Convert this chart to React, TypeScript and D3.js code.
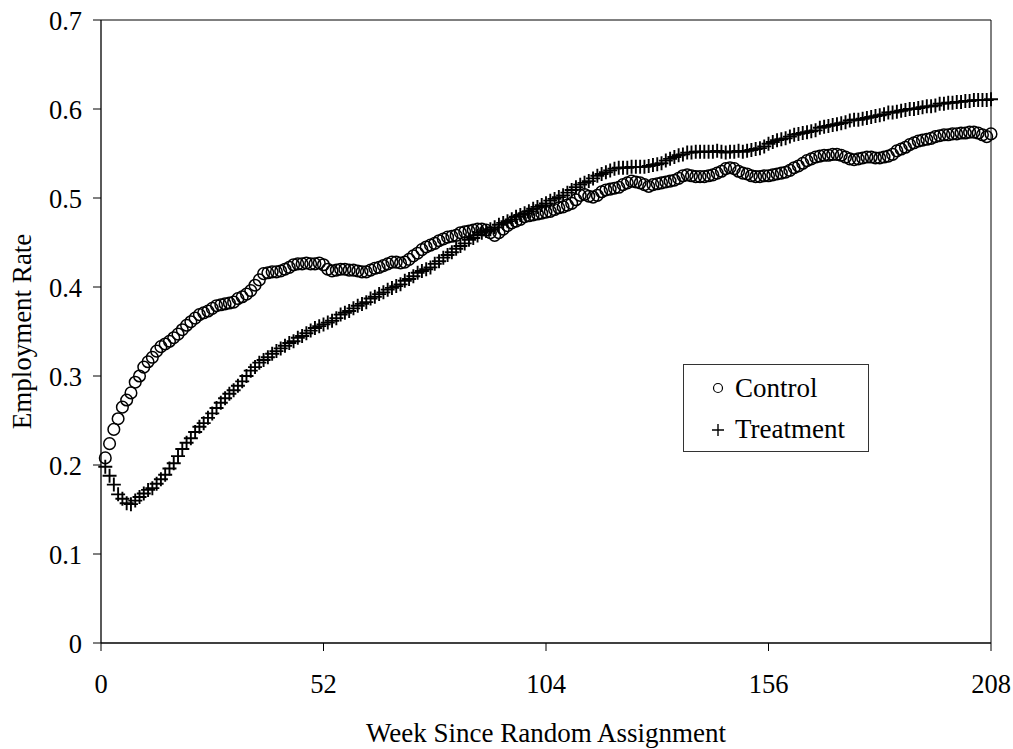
import React from 'react';
import * as d3 from 'd3';

// week index for every point (weeks 1..208)
const WEEKS = d3.range(1, 209);

const CONTROL = [
  0.208, 0.224, 0.240, 0.252, 0.265, 0.273, 0.281, 0.293, 0.300, 0.310,
  0.316, 0.321, 0.328, 0.333, 0.336, 0.339, 0.343, 0.347, 0.352, 0.357,
  0.361, 0.365, 0.369, 0.371, 0.373, 0.376, 0.379, 0.380, 0.381, 0.382,
  0.383, 0.387, 0.389, 0.392, 0.396, 0.402, 0.408, 0.415, 0.416, 0.417,
  0.417, 0.418, 0.420, 0.422, 0.425, 0.426, 0.426, 0.427, 0.426, 0.426,
  0.427, 0.425, 0.420, 0.418, 0.419, 0.420, 0.420, 0.419, 0.419, 0.418,
  0.417, 0.417, 0.419, 0.421, 0.422, 0.424, 0.426, 0.428, 0.428, 0.427,
  0.428, 0.431, 0.435, 0.438, 0.442, 0.445, 0.447, 0.449, 0.452, 0.454,
  0.456, 0.457, 0.458, 0.461, 0.462, 0.463, 0.464, 0.465, 0.465, 0.464,
  0.461, 0.458, 0.461, 0.465, 0.469, 0.472, 0.474, 0.476, 0.479, 0.480,
  0.481, 0.482, 0.483, 0.484, 0.485, 0.487, 0.489, 0.490, 0.492, 0.494,
  0.498, 0.503, 0.504, 0.502, 0.501, 0.503, 0.507, 0.509, 0.510, 0.511,
  0.512, 0.515, 0.517, 0.519, 0.518, 0.517, 0.515, 0.513, 0.515, 0.516,
  0.517, 0.518, 0.519, 0.520, 0.522, 0.525, 0.526, 0.525, 0.524, 0.524,
  0.524, 0.525, 0.526, 0.528, 0.530, 0.533, 0.534, 0.533, 0.530, 0.528,
  0.527, 0.525, 0.524, 0.524, 0.525, 0.525, 0.526, 0.527, 0.528, 0.529,
  0.531, 0.534, 0.536, 0.539, 0.542, 0.544, 0.546, 0.547, 0.548, 0.548,
  0.549, 0.549, 0.548, 0.546, 0.544, 0.543, 0.544, 0.545, 0.546, 0.546,
  0.545, 0.545, 0.546, 0.547, 0.549, 0.553, 0.555, 0.557, 0.560, 0.562,
  0.564, 0.565, 0.566, 0.567, 0.569, 0.570, 0.571, 0.571, 0.572, 0.572,
  0.573, 0.573, 0.574, 0.574, 0.573, 0.571, 0.569, 0.572,
];

const TREATMENT = [
  0.198, 0.188, 0.178, 0.167, 0.162, 0.157, 0.156, 0.160, 0.164, 0.168,
  0.172, 0.174, 0.179, 0.184, 0.189, 0.196, 0.202, 0.210, 0.218, 0.225,
  0.230, 0.237, 0.243, 0.247, 0.253, 0.258, 0.264, 0.270, 0.275, 0.280,
  0.284, 0.289, 0.294, 0.300, 0.306, 0.310, 0.315, 0.318, 0.321, 0.325,
  0.328, 0.331, 0.334, 0.337, 0.339, 0.343, 0.345, 0.348, 0.351, 0.354,
  0.356, 0.358, 0.360, 0.362, 0.365, 0.369, 0.371, 0.373, 0.376, 0.379,
  0.381, 0.383, 0.387, 0.389, 0.392, 0.394, 0.397, 0.399, 0.401, 0.403,
  0.407, 0.409, 0.412, 0.416, 0.418, 0.420, 0.422, 0.426, 0.429, 0.433,
  0.436, 0.439, 0.443, 0.446, 0.449, 0.453, 0.455, 0.458, 0.461, 0.463,
  0.465, 0.467, 0.470, 0.472, 0.474, 0.476, 0.479, 0.481, 0.483, 0.485,
  0.488, 0.490, 0.492, 0.494, 0.497, 0.499, 0.501, 0.503, 0.506, 0.509,
  0.512, 0.515, 0.517, 0.519, 0.522, 0.525, 0.527, 0.529, 0.531, 0.533,
  0.534, 0.534, 0.534, 0.535, 0.535, 0.535, 0.535, 0.536, 0.537, 0.538,
  0.539, 0.542, 0.544, 0.546, 0.548, 0.549, 0.551, 0.551, 0.552, 0.552,
  0.552, 0.552, 0.552, 0.553, 0.552, 0.551, 0.552, 0.552, 0.553, 0.552,
  0.553, 0.554, 0.555, 0.556, 0.558, 0.561, 0.563, 0.565, 0.566, 0.567,
  0.569, 0.571, 0.572, 0.573, 0.574, 0.575, 0.576, 0.579, 0.580, 0.581,
  0.582, 0.583, 0.584, 0.585, 0.587, 0.588, 0.588, 0.589, 0.590, 0.591,
  0.592, 0.593, 0.594, 0.596, 0.596, 0.597, 0.598, 0.599, 0.600, 0.600,
  0.601, 0.602, 0.603, 0.603, 0.604, 0.606, 0.606, 0.607, 0.607, 0.608,
  0.608, 0.609, 0.609, 0.610, 0.610, 0.610, 0.610, 0.611,
];

const X_TICKS = [0, 52, 104, 156, 208];
const Y_TICKS = [0, 0.1, 0.2, 0.3, 0.4, 0.5, 0.6, 0.7];
const Y_LABELS = ['0', '0.1', '0.2', '0.3', '0.4', '0.5', '0.6', '0.7'];

const FONT = '"Liberation Serif", "Times New Roman", serif';

export default function App() {
  const width = 1013;
  const height = 749;
  const left = 101, right = 991, top = 20, bottom = 643;

  const x = d3.scaleLinear().domain([0, 208]).range([left, right]);
  const y = d3.scaleLinear().domain([0, 0.7]).range([bottom, top]);

  const r = 5.8;   // circle marker
  const p = 7;     // plus half-size

  return (
    <svg width={width} height={height}
      style={{ position: 'absolute', left: 0, top: 0, background: '#fff' }}
      fontFamily={FONT}>
      {/* frame */}
      <line x1={left} x2={right} y1={top} y2={top} stroke="#000" />
      <line x1={right} x2={right} y1={top} y2={bottom} stroke="#000" />
      <line x1={left} x2={left} y1={top} y2={bottom} stroke="#000" strokeWidth={1.3} />
      <line x1={left} x2={right} y1={bottom} y2={bottom} stroke="#000" strokeWidth={1.3} />

      {/* y axis */}
      {Y_TICKS.map((t, i) => (
        <g key={'y' + i}>
          <line x1={left - 8} x2={left} y1={y(t)} y2={y(t)} stroke="#000" />
          <text x={82} y={y(t) + 9.5} textAnchor="end" fontSize={26.5}>{Y_LABELS[i]}</text>
        </g>
      ))}

      {/* x axis */}
      {X_TICKS.map(t => (
        <g key={'x' + t}>
          <line x1={x(t)} x2={x(t)} y1={bottom} y2={bottom + 8} stroke="#000" />
          <text x={x(t)} y={693} textAnchor="middle" fontSize={26.5}>{t}</text>
        </g>
      ))}

      <text x={(left + right) / 2} y={742} textAnchor="middle" fontSize={27}>
        Week Since Random Assignment
      </text>
      <text transform={`translate(31, ${(top + bottom) / 2}) rotate(-90)`}
        textAnchor="middle" fontSize={27}>
        Employment Rate
      </text>

      {/* control series */}
      <g fill="none" stroke="#000" strokeWidth={1.5}>
        {WEEKS.map((w, i) => (
          <circle key={'c' + w} cx={x(w)} cy={y(CONTROL[i])} r={r} />
        ))}
      </g>

      {/* treatment series */}
      <g stroke="#000" strokeWidth={1.9}>
        {WEEKS.map((w, i) => {
          const cx = x(w), cy = y(TREATMENT[i]);
          return (
            <path key={'t' + w}
              d={`M${cx - p},${cy}H${cx + p}M${cx},${cy - p}V${cy + p}`} />
          );
        })}
      </g>

      {/* legend */}
      <rect x={683.5} y={364.5} width={185} height={87} fill="#fff" stroke="#333" />
      <circle cx={718} cy={388} r={4.5} fill="none" stroke="#000" strokeWidth={1.2} />
      <text x={735} y={397} fontSize={27}>Control</text>
      <path d="M712,430H724M718,424V436" stroke="#000" strokeWidth={1.4} />
      <text x={735} y={438} fontSize={27}>Treatment</text>
    </svg>
  );
}
